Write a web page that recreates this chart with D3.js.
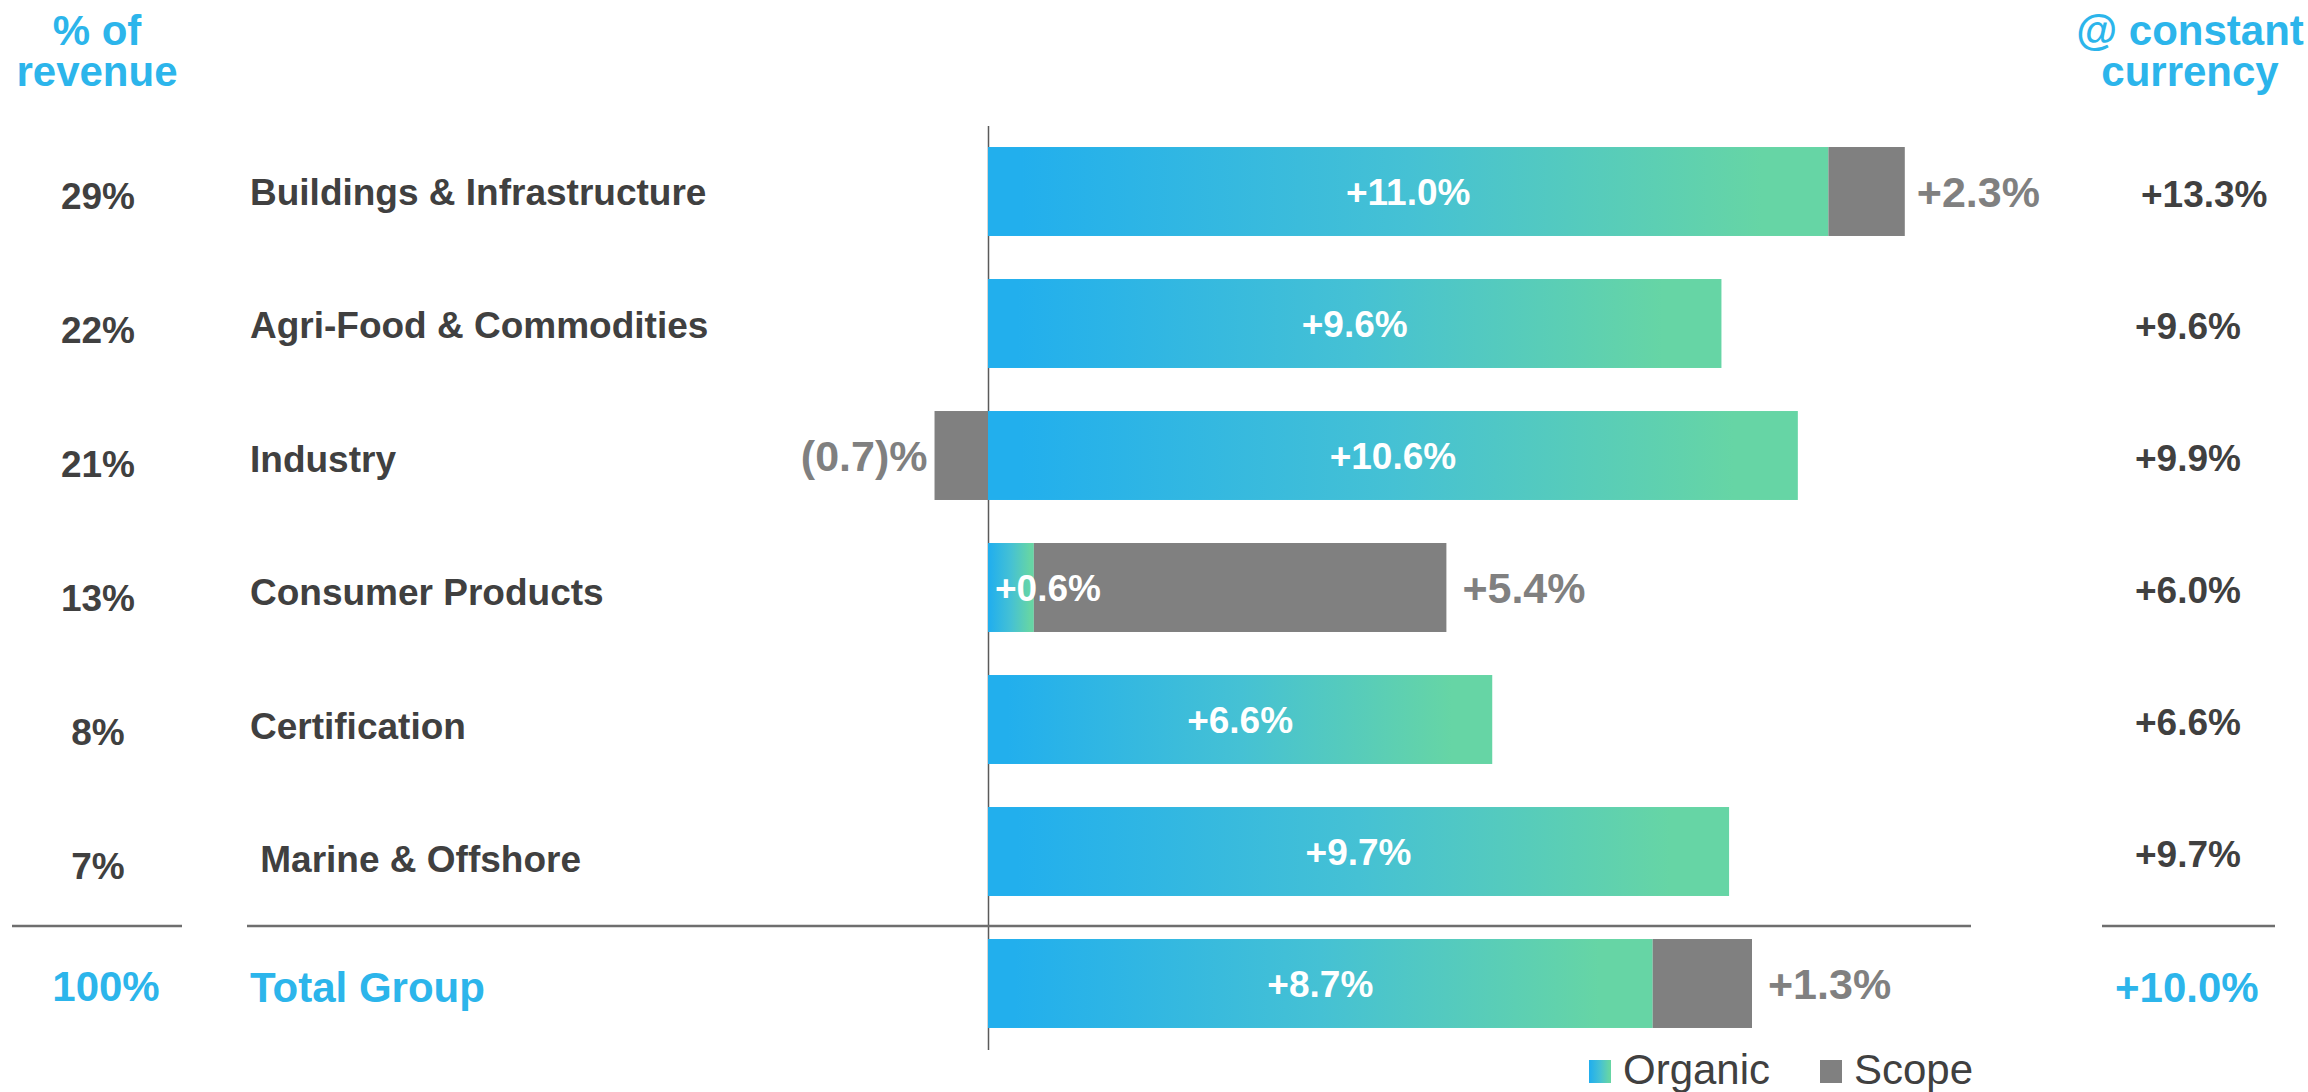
<!DOCTYPE html>
<html><head><meta charset="utf-8">
<script src="https://cdn.jsdelivr.net/npm/d3@7"></script>
<style>
body{margin:0;background:#fff}
svg text{font-family:"Liberation Sans",Arial,Helvetica,sans-serif}
</style>
</head><body>
<svg id="chart" width="2308" height="1092"></svg>
<script>
// ---- data ----
const categories = ["Buildings & Infrastructure","Agri-Food & Commodities","Industry","Consumer Products","Certification"," Marine & Offshore","Total Group"];
const revenueShare = [29, 22, 21, 13, 8, 7, 100];
const organic = [11.0, 9.6, 10.6, 0.6, 6.6, 9.7, 8.7];
const scope = [2.3, null, -0.7, 5.4, null, null, 1.3];          // labelled scope values
const scopeBar = [1.0, 0, -0.7, 5.4, 0, 0, 1.3];                // scope bar length as drawn
const constantCurrency = [13.3, 9.6, 9.9, 6.0, 6.6, 9.7, 10.0];
const leftHeader = ["% of", "revenue"];
const rightHeader = ["@ constant", "currency"];
const legendLabels = ["Organic", "Scope"];

// ---- styles ----
const BLUE = "#2CB5EB", DARK = "#404040", GRAY = "#808080";
const svg = d3.select("#chart");
svg.append("rect").attr("width", 2308).attr("height", 1092).attr("fill", "#fff");

const defs = svg.append("defs");
const grad = defs.append("linearGradient").attr("id", "orgGrad")
  .attr("x1", "0").attr("x2", "1").attr("y1", "0").attr("y2", "0");
grad.append("stop").attr("offset", "0.04").attr("stop-color", "#22AFED");
grad.append("stop").attr("offset", "0.5").attr("stop-color", "#45C1D4");
grad.append("stop").attr("offset", "0.92").attr("stop-color", "#66D5A5");

const x = d3.scaleLinear().domain([0, 11]).range([988, 1828.4]);
const y = d3.scaleBand().domain(categories).range([125.5, 1049.5])
  .paddingInner(0.326).paddingOuter(0.163);
const bw = y.bandwidth();
const isTotal = (i) => i === categories.length - 1;
const fmtPlus = (v) => v < 0 ? "(" + d3.format(".1f")(-v) + ")%" : "+" + d3.format(".1f")(v) + "%";

const rows = categories.map((c, i) => ({
  c, i, share: revenueShare[i], org: organic[i], sc: scope[i], sb: scopeBar[i], cc: constantCurrency[i]
}));

// axis line
const axisG = svg.append("g").attr("transform", "translate(" + x(0) + ",0)")
  .call(d3.axisLeft(y).tickSize(0).tickFormat(""));
axisG.selectAll(".tick").remove();
axisG.select(".domain").attr("stroke", "#5a5a5a").attr("stroke-width", 1.5);

// organic bars
svg.append("g").selectAll("rect").data(rows).join("rect")
  .attr("x", x(0))
  .attr("y", d => y(d.c))
  .attr("width", d => x(d.org) - x(0))
  .attr("height", bw)
  .attr("fill", "url(#orgGrad)");

// scope bars
svg.append("g").selectAll("rect").data(rows.filter(d => d.sb !== 0)).join("rect")
  .attr("x", d => d.sb > 0 ? x(d.org) : x(d.sb))
  .attr("y", d => y(d.c))
  .attr("width", d => d.sb > 0 ? x(d.org + d.sb) - x(d.org) : x(0) - x(d.sb))
  .attr("height", bw)
  .attr("fill", GRAY);

const cy = (d) => y(d.c) + bw / 2;

// organic labels
svg.append("g").selectAll("text").data(rows).join("text")
  .attr("x", d => (x(d.org) - x(0)) > 150 ? (x(0) + x(d.org)) / 2 : x(0) + 7)
  .attr("y", d => cy(d) + 0.358 * 37)
  .attr("text-anchor", d => (x(d.org) - x(0)) > 150 ? "middle" : "start")
  .attr("font-size", 37).attr("font-weight", "bold").attr("fill", "#fff")
  .text(d => fmtPlus(d.org));

// scope labels
svg.append("g").selectAll("text").data(rows.filter(d => d.sc !== null)).join("text")
  .attr("x", d => d.sc > 0 ? x(d.org + d.sb) + (d.i === 0 ? 12 : 16) : x(d.sb) - 7)
  .attr("y", d => cy(d) + 0.358 * 43)
  .attr("text-anchor", d => d.sc > 0 ? "start" : "end")
  .attr("font-size", 43).attr("font-weight", "bold").attr("fill", GRAY)
  .text(d => fmtPlus(d.sc));

// left column: % of revenue
svg.append("g").selectAll("text").data(rows).join("text")
  .attr("x", d => isTotal(d.i) ? 106 : 98)
  .attr("y", d => isTotal(d.i) ? cy(d) + 2 + 0.358 * 42 : cy(d) + 4 + d.i * 2 + 0.358 * 37)
  .attr("text-anchor", "middle")
  .attr("font-size", d => isTotal(d.i) ? 42 : 37)
  .attr("font-weight", "bold")
  .attr("fill", d => isTotal(d.i) ? BLUE : DARK)
  .text(d => d.share + "%");

// category labels
svg.append("g").selectAll("text").data(rows).join("text")
  .attr("x", 250)
  .attr("y", d => isTotal(d.i) ? cy(d) + 3 + 0.358 * 42 : cy(d) + d.i * 1.5 + 0.358 * 37)
  .attr("font-size", d => isTotal(d.i) ? 42 : 37)
  .attr("font-weight", "bold")
  .attr("fill", d => isTotal(d.i) ? BLUE : DARK)
  .style("white-space", "pre")
  .text(d => d.c);

// right column: constant currency
svg.append("g").selectAll("text").data(rows).join("text")
  .attr("x", d => isTotal(d.i) ? 2115 : (d.i === 0 ? 2141 : 2135))
  .attr("y", d => isTotal(d.i) ? cy(d) + 3 + 0.358 * 42 : cy(d) + 2 + 0.358 * 37)
  .attr("font-size", d => isTotal(d.i) ? 42 : 37)
  .attr("font-weight", "bold")
  .attr("fill", d => isTotal(d.i) ? BLUE : DARK)
  .text(d => fmtPlus(d.cc));

// headers
const hdr = svg.append("g").attr("font-size", 42).attr("font-weight", "bold").attr("fill", BLUE).attr("text-anchor", "middle");
hdr.selectAll("text.l").data(leftHeader).join("text").attr("class", "l")
  .attr("x", 97).attr("y", (d, i) => 45 + i * 41).text(d => d);
hdr.selectAll("text.r").data(rightHeader).join("text").attr("class", "r")
  .attr("x", 2190).attr("y", (d, i) => 45 + i * 41).text(d => d);

// separator lines above total
const sepY = y(categories[categories.length - 1]) - 13;
const seps = [[12, 182], [247, 1971], [2102, 2275]];
svg.append("g").selectAll("line").data(seps).join("line")
  .attr("x1", d => d[0]).attr("x2", d => d[1])
  .attr("y1", sepY).attr("y2", sepY)
  .attr("stroke", "#6e6e6e").attr("stroke-width", 2.5);

// legend
const legX = [1589, 1820];
const leg = svg.append("g");
leg.selectAll("rect").data(legendLabels).join("rect")
  .attr("x", (d, i) => legX[i]).attr("y", 1060).attr("width", 22).attr("height", 23)
  .attr("fill", (d, i) => i === 0 ? "url(#orgGrad)" : GRAY);
leg.selectAll("text").data(legendLabels).join("text")
  .attr("x", (d, i) => legX[i] + 34).attr("y", 1084)
  .attr("font-size", 42).attr("fill", DARK)
  .text(d => d);
</script>
</body></html>
